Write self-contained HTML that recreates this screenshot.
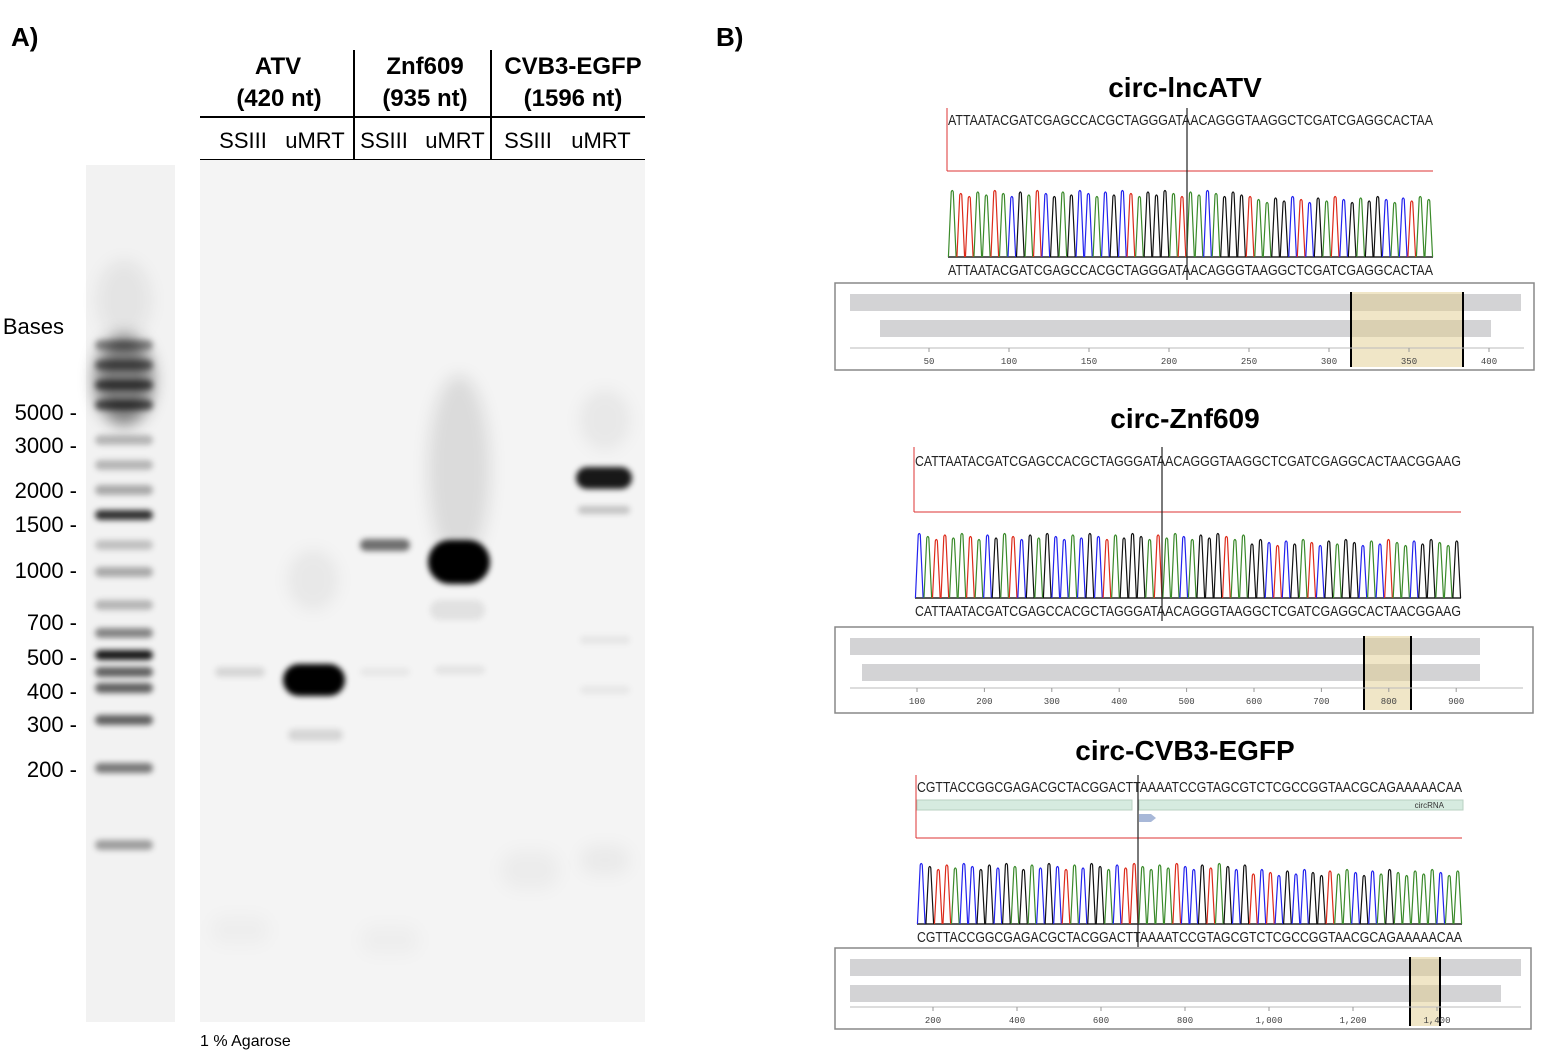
<!DOCTYPE html>
<html><head><meta charset="utf-8"><style>
html,body{margin:0;padding:0;background:#fff}
svg{display:block;font-family:"Liberation Sans",sans-serif}
</style></head><body>
<svg id="s" width="1556" height="1054" viewBox="0 0 1556 1054" xmlns="http://www.w3.org/2000/svg">
<defs>
<filter id="b1" x="-50%" y="-200%" width="200%" height="500%"><feGaussianBlur stdDeviation="3"/></filter>
<filter id="b2" x="-50%" y="-200%" width="200%" height="500%"><feGaussianBlur stdDeviation="8"/></filter>
</defs>
<rect width="1556" height="1054" fill="#fff"/>
<text x="11" y="46" font-size="26" font-weight="bold">A)</text>
<text x="716" y="46" font-size="26" font-weight="bold">B)</text>

<g font-weight="bold" font-size="24" text-anchor="middle">
<text x="278" y="74">ATV</text><text x="279" y="106">(420 nt)</text>
<text x="425" y="74">Znf609</text><text x="425" y="106">(935 nt)</text>
<text x="573" y="74">CVB3-EGFP</text><text x="573" y="106">(1596 nt)</text>
</g>
<g stroke="#000" stroke-width="2">
<line x1="354" y1="50" x2="354" y2="160"/><line x1="491" y1="50" x2="491" y2="160"/>
<line x1="200" y1="117" x2="645" y2="117"/><line x1="200" y1="160" x2="645" y2="160"/>
</g>
<g font-size="22" text-anchor="middle">
<text x="243" y="148">SSIII</text><text x="315" y="148">uMRT</text>
<text x="384" y="148">SSIII</text><text x="455" y="148">uMRT</text>
<text x="528" y="148">SSIII</text><text x="601" y="148">uMRT</text>
</g>
<g font-size="22" text-anchor="end">
<text x="64" y="334">Bases</text>
<text x="77" y="420">5000 -</text><text x="77" y="453">3000 -</text>
<text x="77" y="498">2000 -</text><text x="77" y="532">1500 -</text>
<text x="77" y="578">1000 -</text><text x="77" y="630">700 -</text>
<text x="77" y="665">500 -</text><text x="77" y="699">400 -</text>
<text x="77" y="732">300 -</text><text x="77" y="777">200 -</text>
</g>
<text x="200" y="1046" font-size="16">1 % Agarose</text>

<rect x="86" y="165" width="89" height="857" fill="#f2f2f2"/>
<rect x="200" y="160" width="445" height="862" fill="#f4f4f4"/>
<g id="bands"></g>

<g font-weight="bold" font-size="28" text-anchor="middle">
<text x="1185" y="97">circ-lncATV</text>
<text x="1185" y="428">circ-Znf609</text>
<text x="1185" y="760">circ-CVB3-EGFP</text>
</g>
<g id="chrom"></g>
</svg>
<script>
var NS="http://www.w3.org/2000/svg";
function el(p,t,a,txt){var e=document.createElementNS(NS,t);for(var k in a)e.setAttribute(k,a[k]);if(txt)e.textContent=txt;p.appendChild(e);return e;}
var B=document.getElementById('bands');
function band(x,y,w,h,op,f){el(B,'rect',{x:x,y:y-h/2,width:w,height:h,rx:h/2,fill:'#000','fill-opacity':op,filter:'url(#'+(f||'b1')+')'});}
band(95,380,58,90,0.5,'b2');
band(97,300,54,80,0.06,'b2');
[[345,.4],[365,.5],[385,.6],[405,.6],[440,.25],[465,.25],[490,.3],[515,.8],[545,.2],[572,.3],[605,.25],[633,.45],[655,.9],[672,.6],[688,.6],[720,.6],[768,.5],[845,.35]].forEach(function(b){band(95,b[0],58,10,b[1]);});
band(215,672,50,10,0.12);
band(283,680,62,32,1.0);band(288,735,55,12,0.12);band(288,580,50,60,0.05,'b2');
band(360,545,50,12,0.55);
band(428,470,62,190,0.1,'b2');band(428,562,62,44,1.0);band(430,610,55,20,0.08);
band(576,478,56,22,0.9);band(578,510,52,8,0.2);band(580,420,50,60,0.05,'b2');
band(435,670,50,8,0.07);band(360,672,50,8,0.05);band(580,640,50,8,0.06);band(580,690,50,8,0.05);
band(500,870,60,40,0.03,'b2');band(580,860,50,30,0.04,'b2');band(210,930,60,30,0.025,'b2');band(360,940,60,30,0.025,'b2');

var C=document.getElementById('chrom');
var col={A:'#3a8a2a',C:'#2222ee',G:'#111',T:'#dd2a1a'};
function chrom(o){
  var g=el(C,'g',{});
  var n=o.seq.length;
  el(g,'text',{x:o.x1,y:o.ty,'font-size':15,textLength:o.x2-o.x1,lengthAdjust:'spacingAndGlyphs',fill:'#222'},o.seq);
  el(g,'text',{x:o.x1,y:o.by,'font-size':15,textLength:o.x2-o.x1,lengthAdjust:'spacingAndGlyphs',fill:'#222'},o.seq);
  if(o.feat){el(g,'rect',{x:o.x1,y:o.feat,width:o.vx-o.x1-6,height:10,fill:'#d6ebe0',stroke:'#b8d0c2'});
    el(g,'rect',{x:o.vx+1,y:o.feat,width:o.x2-o.vx,height:10,fill:'#d6ebe0',stroke:'#b8d0c2'});
    el(g,'text',{x:o.x2-18,y:o.feat+8,'font-size':8,'text-anchor':'end',fill:'#333'},'circRNA');
    el(g,'path',{d:'M'+(o.vx+1)+' '+(o.feat+14)+'h12l5 4l-5 4h-12z',fill:'#a8b8d8'});}
  el(g,'line',{x1:o.x1-1,y1:o.rtop,x2:o.x1-1,y2:o.rl,stroke:'#d33',"stroke-width":1});
  el(g,'line',{x1:o.x1-1,y1:o.rl,x2:o.x2,y2:o.rl,stroke:'#d33',"stroke-width":1});
  el(g,'line',{x1:o.x1,y1:o.base,x2:o.x2,y2:o.base,stroke:'#222',"stroke-width":1.5});
  var w=(o.x2-o.x1)/n;
  for(var i=0;i<n;i++){var cx=o.x1+w*(i+0.5),h=o.top+((i*7)%5)*1.5+(i>n*0.6?6:0);
    el(g,'path',{d:'M'+(cx-w*0.45)+' '+o.base+'L'+(cx-w*0.12)+' '+h+'Q'+cx+' '+(h-3)+' '+(cx+w*0.12)+' '+h+'L'+(cx+w*0.45)+' '+o.base,fill:'none',stroke:col[o.seq[i]],"stroke-width":1.2});}
  el(g,'line',{x1:o.vx,y1:o.rtop,x2:o.vx,y2:o.by+5,stroke:'#222',"stroke-width":1.2});
  el(g,'rect',{x:o.bx1,y:o.bt,width:o.bx2-o.bx1,height:o.bh,fill:'#fff',stroke:'#888',"stroke-width":1.5});
  el(g,'rect',{x:o.r1[0],y:o.bt+11,width:o.r1[1]-o.r1[0],height:17,fill:'#d3d3d5'});
  el(g,'rect',{x:o.r2[0],y:o.bt+37,width:o.r2[1]-o.r2[0],height:17,fill:'#d3d3d5'});
  el(g,'rect',{x:o.hl[0],y:o.bt+9,width:o.hl[1]-o.hl[0],height:o.bh-12,fill:'#e2cd90','fill-opacity':0.5});
  el(g,'line',{x1:o.hl[0],y1:o.bt+9,x2:o.hl[0],y2:o.bt+o.bh-3,stroke:'#000',"stroke-width":2});
  el(g,'line',{x1:o.hl[1],y1:o.bt+9,x2:o.hl[1],y2:o.bt+o.bh-3,stroke:'#000',"stroke-width":2});
  el(g,'line',{x1:o.bx1+15,y1:o.ay,x2:o.bx2-10,y2:o.ay,stroke:'#bbb',"stroke-width":1});
  o.ticks.forEach(function(t){el(g,'line',{x1:t[0],y1:o.ay,x2:t[0],y2:o.ay+4,stroke:'#999'});
    el(g,'text',{x:t[0],y:o.ay+16,'font-size':9,'text-anchor':'middle','font-family':'Liberation Mono,monospace',fill:'#444'},t[1]);});
}
function tk(start,step,x0,dx,n,fmt){var a=[];for(var i=0;i<n;i++){var v=start+step*i;a.push([x0+dx*i,fmt?v.toLocaleString('en-US'):String(v)]);}return a;}
chrom({seq:'ATTAATACGATCGAGCCACGCTAGGGATAACAGGGTAAGGCTCGATCGAGGCACTAA',x1:948,x2:1433,ty:125,by:275,rtop:108,rl:171,base:257,top:192,vx:1187,
 bx1:835,bx2:1534,bt:283,bh:87,r1:[850,1521],r2:[880,1491],hl:[1351,1463],ay:348,ticks:tk(50,50,929,80,8)});
chrom({seq:'CATTAATACGATCGAGCCACGCTAGGGATAACAGGGTAAGGCTCGATCGAGGCACTAACGGAAG',x1:915,x2:1461,ty:466,by:616,rtop:447,rl:512,base:598,top:535,vx:1162,
 bx1:835,bx2:1533,bt:627,bh:86,r1:[850,1480],r2:[862,1480],hl:[1364,1411],ay:688,ticks:tk(100,100,917,67.4,9)});
chrom({seq:'CGTTACCGGCGAGACGCTACGGACTTAAAATCCGTAGCGTCTCGCCGGTAACGCAGAAAAACAA',x1:917,x2:1462,ty:792,by:942,rtop:775,rl:838,base:924,top:865,vx:1138,feat:800,
 bx1:835,bx2:1531,bt:948,bh:81,r1:[850,1521],r2:[850,1501],hl:[1410,1440],ay:1007,ticks:tk(200,200,933,84,7,true)});
</script>
</body></html>
